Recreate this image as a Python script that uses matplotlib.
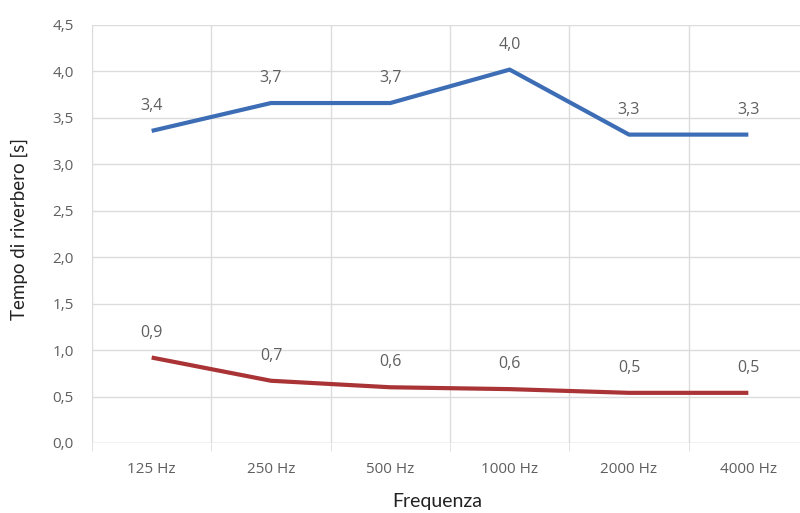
import numpy as np
import matplotlib.pyplot as plt

# Reverberation time per octave band
frequenze = ['125 Hz', '250 Hz', '500 Hz', '1000 Hz', '2000 Hz', '4000 Hz']
tempo_prima = [3.36, 3.66, 3.66, 4.02, 3.32, 3.32]
tempo_dopo = [0.92, 0.67, 0.60, 0.58, 0.54, 0.54]

blu = '#3d6db5'
rosso = '#aa3336'
grigio = '#5f5f5f'

fig = plt.figure(figsize=(8.0, 5.13), dpi=100)
# axes runs a little past the right edge of the figure
ax = fig.add_axes([92 / 800, 1 - 443 / 513, 716 / 800, 418 / 513])

x = np.arange(len(frequenze))
ax.plot(x, tempo_prima, color=blu, lw=3, solid_capstyle='butt', zorder=3)
ax.plot(x, tempo_dopo, color=rosso, lw=3, solid_capstyle='butt', zorder=3)

# value labels above each point
for serie in (tempo_prima, tempo_dopo):
    for xi, v in zip(x, serie):
        ax.annotate(f'{v:.1f}'.replace('.', ','), (xi, v), xytext=(0, 18),
                    textcoords='offset points', ha='center', va='center',
                    fontsize=11.5, color=grigio, family='Open Sans')

ax.set_xlim(-0.5, len(frequenze) - 0.5)
ax.set_ylim(0, 4.5)
ax.set_yticks(np.arange(0, 4.51, 0.5))
ax.set_yticklabels([f'{t:.1f}'.replace('.', ',') for t in np.arange(0, 4.51, 0.5)])
ax.set_xticks(x)
ax.set_xticklabels(frequenze)

# vertical lines between categories, horizontal at each tick
ax.set_xticks(np.arange(-0.5, len(frequenze), 1.0), minor=True)
ax.grid(True, axis='y', color='#dcdcdc', lw=1)
ax.grid(True, axis='x', which='minor', color='#dcdcdc', lw=1)
ax.tick_params(axis='x', which='minor', length=6, color='#dcdcdc')
ax.tick_params(axis='x', which='major', length=0, pad=14)
ax.tick_params(axis='y', length=0, pad=13)
for lab in ax.get_xticklabels() + ax.get_yticklabels():
    lab.set_family('Open Sans')
    lab.set_fontsize(11)
    lab.set_color(grigio)

for s in ax.spines.values():
    s.set_visible(False)
ax.axhline(0, color='#dcdcdc', lw=1, zorder=1)

fig.text(19 / 800, 1 - 229 / 513, 'Tempo di riverbero [s]', rotation=90,
         ha='center', va='center', fontsize=13.5, family='Lato', color='#222222')
fig.text(437 / 800, 1 - 502 / 513, 'Frequenza', ha='center', va='center',
         fontsize=14, family='Lato', color='#222222')

fig.savefig('out.png', dpi=100)
